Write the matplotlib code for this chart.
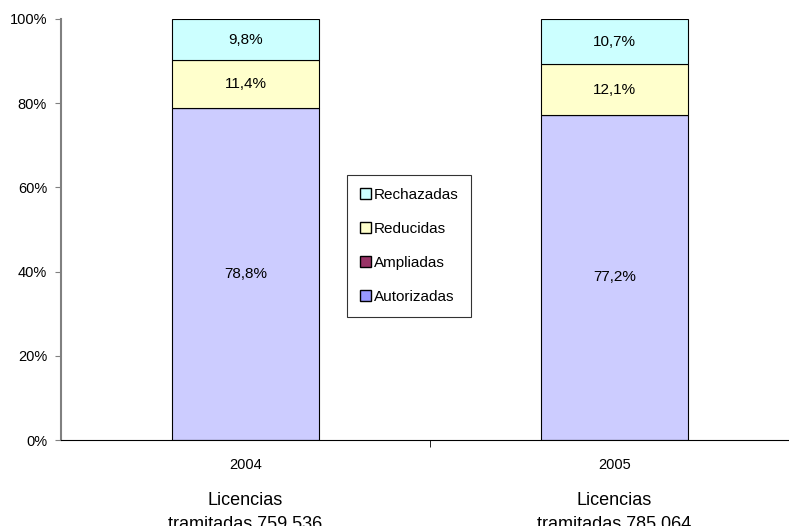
import numpy as np
import matplotlib.pyplot as plt
from matplotlib.patches import Patch

plt.rcParams['font.family'] = ['Liberation Sans', 'DejaVu Sans']

# Datos (porcentajes)
anios = ['2004', '2005']
autorizadas = [78.8, 77.2]
ampliadas = [0.0, 0.0]
reducidas = [11.4, 12.1]
rechazadas = [9.8, 10.7]
totales = ['759.536', '785.064']

fig = plt.figure(figsize=(7.89, 5.26), dpi=100)
ax = fig.add_axes([61 / 789, 1 - 440 / 526, 738 / 789, 421 / 526])

x = np.arange(len(anios))
ancho = 0.4
series = [
    ('Autorizadas', autorizadas, '#CCCCFF', '#9999FF'),
    ('Ampliadas', ampliadas, '#993366', '#993366'),
    ('Reducidas', reducidas, '#FFFFCC', '#FFFFCC'),
    ('Rechazadas', rechazadas, '#CCFFFF', '#CCFFFF'),
]
base = np.zeros(len(anios))
for nombre, vals, color, _ in series:
    vals = np.array(vals)
    ax.bar(x, vals, ancho, bottom=base, color=color, edgecolor='black', linewidth=0.8)
    for xi, b, v in zip(x, base, vals):
        if v > 1:
            ax.text(xi, b + v / 2, f'{v:.1f}%'.replace('.', ','),
                    ha='center', va='center', fontsize=11)
    base += vals

ax.set_xlim(-0.5, 1.5)
ax.set_ylim(0, 100)
ax.set_yticks(np.arange(0, 101, 20))
ax.set_yticklabels([f'{v}%' for v in range(0, 101, 20)], fontsize=10.5)
ax.set_xticks(x)
ax.set_xticklabels(anios, fontsize=10.5)
ax.tick_params(axis='x', length=0, pad=13)
ax.tick_params(axis='y', length=4, color='#808080', pad=6)
ax.set_xticks([0.5], minor=True)
ax.tick_params(axis='x', which='minor', length=5, color='black')

for s in ['top', 'right']:
    ax.spines[s].set_visible(False)
ax.spines['left'].set_color('#808080')
ax.spines['left'].set_linewidth(1.5)
ax.spines['bottom'].set_color('black')

# Texto inferior con el total de licencias (cortado por el borde, como en el original)
for xi, t in zip(x, totales):
    for linea, yb in [('Licencias', 505), ('tramitadas ' + t, 529)]:
        ax.annotate(linea, xy=(xi, 0), xycoords='data',
                    xytext=(xi, 1 - yb / 526), textcoords=('data', 'figure fraction'),
                    ha='center', va='baseline', fontsize=13,
                    annotation_clip=False)

handles = [Patch(facecolor=lc, edgecolor='black', label=n) for n, _, _, lc in series][::-1]
leg = ax.legend(handles=handles, loc='upper left',
                bbox_to_anchor=(347 / 789, 1 - 175 / 526), bbox_transform=fig.transFigure,
                fontsize=11, frameon=True, fancybox=False, edgecolor='black',
                handlelength=0.75, handleheight=0.75, handletextpad=0.15,
                labelspacing=1.31, borderpad=0.85, borderaxespad=0)
leg.get_frame().set_linewidth(0.8)

fig.savefig('out.png', dpi=100)
